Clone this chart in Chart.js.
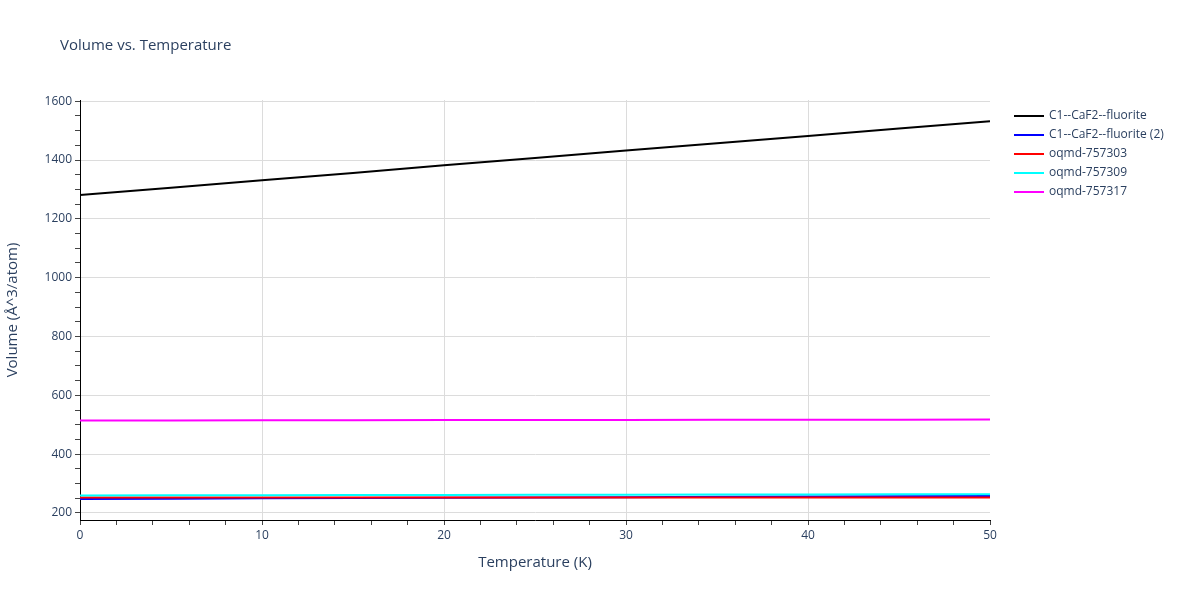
<!DOCTYPE html>
<html>
<head>
<meta charset="utf-8">
<script src="https://cdn.jsdelivr.net/npm/chart.js@4/dist/chart.umd.min.js"></script>
<style>
  body { margin: 0; background: #fff; font-family: "Open Sans", verdana, arial, sans-serif; }
  #wrap { position: relative; width: 1200px; height: 600px; }
  #title { position: absolute; left: 60px; top: 34px; font-size: 15px; color: #2a3f5f; }
  #legend { position: absolute; left: 1014px; top: 105px; font-size: 12px; color: #2a3f5f; }
  #legend div { height: 19px; line-height: 19px; white-space: nowrap; }
  #legend span.sw { display: inline-block; width: 30px; height: 2px; vertical-align: middle; margin-right: 5px; }
</style>
</head>
<body>
<div id="wrap">
  <canvas id="chart" width="1200" height="600"></canvas>
  <div id="title">Volume vs. Temperature</div>
  <div id="legend"></div>
</div>
<script>
// temperatures (K)
const temps = [0, 5, 10, 15, 20, 25, 30, 35, 40, 45, 50];

// volumes per series
const fluorite   = [1281, 1306, 1331, 1356, 1382, 1407, 1432, 1457, 1482, 1507, 1532];
const fluorite2  = [247.6, 248.6, 249.6, 250.6, 251.6, 252.6, 253.7, 254.7, 255.7, 256.8, 257.8];
const oqmd757303 = [252.6, 252.6, 252.6, 252.6, 252.6, 252.5, 252.5, 252.5, 252.4, 252.4, 252.3];
const oqmd757309 = [259.5, 259.9, 260.3, 260.7, 261.1, 261.5, 262, 262.4, 262.8, 263.2, 263.6];
const oqmd757317 = [514.4, 514.7, 515, 515.3, 515.6, 515.9, 516.2, 516.5, 516.8, 517.1, 517.4];

// tick values
const yTicks = [];
for (let v = 200; v <= 1600; v += 50) yTicks.push(v);
const xTicks = [];
for (let v = 0; v <= 50; v += 2) xTicks.push(v);

const seriesNames = ['C1--CaF2--fluorite', 'C1--CaF2--fluorite (2)', 'oqmd-757303', 'oqmd-757309', 'oqmd-757317'];
const seriesColors = ['#000000', '#0000ff', '#ff0000', '#00ffff', '#ff00ff'];
const seriesValues = [fluorite, fluorite2, oqmd757303, oqmd757309, oqmd757317];

const font = '"Open Sans", verdana, arial, sans-serif';
const textColor = '#2a3f5f';

// later traces are drawn on top, like plotly
const datasets = seriesNames.map((name, i) => ({
    label: name,
    data: temps.map((t, j) => ({ x: t, y: seriesValues[i][j] })),
    borderColor: seriesColors[i],
    backgroundColor: seriesColors[i],
    borderWidth: 2,
    pointRadius: 0,
    tension: 0,
    fill: false,
    order: seriesNames.length - i
}));

const ctx = document.getElementById('chart').getContext('2d');
new Chart(ctx, {
    type: 'line',
    data: { datasets: datasets },
    options: {
        responsive: false,
        animation: false,
        layout: { padding: { top: 100, right: 210, left: 0, bottom: 0 } },
        plugins: {
            legend: { display: false },
            title: { display: false },
            tooltip: { enabled: false }
        },
        scales: {
            x: {
                type: 'linear',
                min: 0,
                max: 50,
                afterFit: s => { s.height = 80; },
                afterBuildTicks: s => { s.ticks = xTicks.map(v => ({ value: v })); },
                border: { display: true, color: '#000', width: 1 },
                grid: {
                    color: c => (c.tick && c.tick.value % 10 === 0 && c.tick.value !== 0 && c.tick.value !== 50) ? '#dcdcdc' : 'rgba(0,0,0,0)',
                    tickColor: '#444',
                    tickLength: 5,
                    drawTicks: true
                },
                ticks: {
                    autoSkip: false,
                    maxRotation: 0,
                    padding: 3,
                    color: textColor,
                    font: { family: font, size: 12 },
                    callback: v => (v % 10 === 0 ? String(v) : '')
                },
                title: {
                    display: true,
                    text: 'Temperature (K)',
                    color: textColor,
                    font: { family: font, size: 15 },
                    padding: { top: 0, bottom: 28 }
                }
            },
            y: {
                type: 'linear',
                min: 176,
                max: 1604,
                afterFit: s => { s.width = 80; },
                afterBuildTicks: s => { s.ticks = yTicks.map(v => ({ value: v })); },
                border: { display: true, color: '#000', width: 1 },
                grid: {
                    color: c => (c.tick && c.tick.value % 200 === 0) ? '#dcdcdc' : 'rgba(0,0,0,0)',
                    tickColor: '#444',
                    tickLength: 5,
                    drawTicks: true
                },
                ticks: {
                    autoSkip: false,
                    padding: 3,
                    color: textColor,
                    font: { family: font, size: 12 },
                    callback: v => (v % 200 === 0 ? String(v) : '')
                },
                title: {
                    display: true,
                    text: 'Volume (Å^3/atom)',
                    color: textColor,
                    font: { family: font, size: 15 },
                    padding: { bottom: 8 }
                }
            }
        }
    }
});

// legend as plain html
const legend = document.getElementById('legend');
seriesNames.forEach((name, i) => {
    const row = document.createElement('div');
    row.innerHTML = `<span class="sw" style="background:${seriesColors[i]}"></span>${name}`;
    legend.appendChild(row);
});
</script>
</body>
</html>
